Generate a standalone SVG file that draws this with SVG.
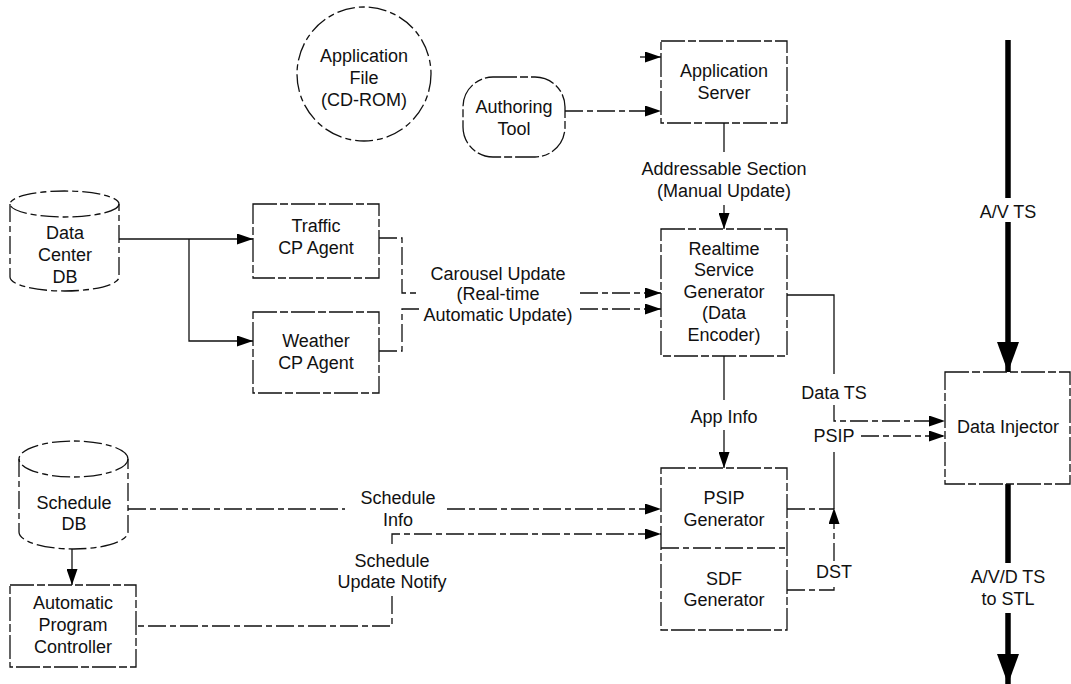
<svg xmlns="http://www.w3.org/2000/svg" width="1071" height="684" viewBox="0 0 1071 684">
<style>
text{font-family:"Liberation Sans",Arial,sans-serif;font-size:18px;fill:#111;text-anchor:middle}
.s{fill:none;stroke:#111;stroke-width:1.3}
.d{fill:none;stroke:#111;stroke-width:1.3;stroke-dasharray:18 4 6 4}
.n{fill:#fff;stroke:#111;stroke-width:1.3;stroke-dasharray:24 3 8 3}
.t{fill:none;stroke:#000;stroke-width:5.5}
</style>
<defs>
<marker id="a" markerUnits="userSpaceOnUse" markerWidth="16" markerHeight="11" refX="16" refY="5.5" orient="auto"><path d="M0,0 L16,5.5 L0,11 z" fill="#000"/></marker>
<marker id="b" markerUnits="userSpaceOnUse" markerWidth="30" markerHeight="22" refX="30" refY="11" orient="auto"><path d="M0,0 L30,11 L0,22 z" fill="#000"/></marker>
</defs>
<rect width="1071" height="684" fill="#fff"/>

<g id="connectors">
<path class="d" d="M565,111 L661,111" marker-end="url(#a)"/>
<path class="s" d="M640,57 L661,57" marker-end="url(#a)"/>
<path class="s" d="M724,123 L724,152"/>
<path class="s" d="M724,205 L724,229" marker-end="url(#a)"/>
<path class="s" d="M119,239 L253,239" marker-end="url(#a)"/>
<path class="s" d="M189,239 L189,341 L253,341" marker-end="url(#a)"/>
<path class="d" d="M379,238 L402,238 L402,293 L419,293"/>
<path class="d" d="M580,293 L661,293" marker-end="url(#a)"/>
<path class="d" d="M379,351 L402,351 L402,309 L419,309"/>
<path class="d" d="M580,309 L661,309" marker-end="url(#a)"/>
<path class="s" d="M787,295 L834,295 L834,374"/>
<path class="d" d="M834,405 L834,421 L945,421" marker-end="url(#a)"/>
<path class="d" d="M861,436 L945,436" marker-end="url(#a)"/>
<path class="s" d="M724,356 L724,400"/>
<path class="s" d="M724,430 L724,468" marker-end="url(#a)"/>
<path class="s" d="M834,452 L834,509"/>
<path class="d" d="M787,509 L834,509"/>
<path class="d" d="M834,561 L834,508" marker-end="url(#a)"/>
<path class="d" d="M787,590 L834,590 L834,585"/>
<path class="t" d="M1008,40 L1008,198"/>
<path class="t" d="M1008,222 L1008,372" marker-end="url(#b)"/>
<path class="t" d="M1008,484 L1008,563"/>
<path class="t" d="M1008,613 L1008,684" marker-end="url(#b)"/>
<path class="d" d="M128,509 L345,509"/>
<path class="d" d="M447,509 L661,509" marker-end="url(#a)"/>
<path class="d" d="M392,544 L392,534 L661,534" marker-end="url(#a)"/>
<path class="d" d="M392,596 L392,626 L136,626"/>
<path class="s" d="M72,549 L72,585" marker-end="url(#a)"/>
</g>

<g id="app-file">
<circle class="d" cx="364" cy="74" r="67"/>
<text x="364" y="62">Application</text>
<text x="364" y="84">File</text>
<text x="364" y="106">(CD-ROM)</text>
</g>
<g id="authoring-tool">
<rect class="n" x="463" y="77" width="102" height="80" rx="30"/>
<text x="514" y="113">Authoring</text>
<text x="514" y="135">Tool</text>
</g>
<g id="app-server">
<rect class="n" x="661" y="41" width="126" height="82"/>
<text x="724" y="77">Application</text>
<text x="724" y="99">Server</text>
</g>
<g id="label-addressable">
<text x="724" y="175">Addressable Section</text>
<text x="724" y="197">(Manual Update)</text>
</g>
<g id="realtime">
<rect class="n" x="661" y="229" width="126" height="127"/>
<text x="724" y="255">Realtime</text>
<text x="724" y="276">Service</text>
<text x="724" y="298">Generator</text>
<text x="724" y="319">(Data</text>
<text x="724" y="341">Encoder)</text>
</g>
<g id="data-center-db">
<path class="d" d="M10,204 L10,277 A54.5,14 0 0 0 119,277 L119,204"/>
<ellipse class="d" cx="64.5" cy="204" rx="54.5" ry="13"/>
<text x="65" y="239">Data</text>
<text x="65" y="261">Center</text>
<text x="65" y="283">DB</text>
</g>
<g id="traffic">
<rect class="n" x="253" y="204" width="126" height="74"/>
<text x="316" y="232">Traffic</text>
<text x="316" y="254">CP Agent</text>
</g>
<g id="weather">
<rect class="n" x="253" y="312" width="126" height="81"/>
<text x="316" y="347">Weather</text>
<text x="316" y="369">CP Agent</text>
</g>
<g id="label-carousel">
<text x="498" y="280">Carousel Update</text>
<text x="498" y="300">(Real-time</text>
<text x="498" y="321">Automatic Update)</text>
</g>
<g id="label-datats"><text x="834" y="399">Data TS</text></g>
<g id="label-psip"><text x="834" y="442">PSIP</text></g>
<g id="label-appinfo"><text x="724" y="423">App Info</text></g>
<g id="label-dst"><text x="834" y="578">DST</text></g>
<g id="data-injector">
<rect class="n" x="945" y="372" width="125" height="112"/>
<text x="1008" y="433">Data Injector</text>
</g>
<g id="label-avts"><text x="1008" y="218">A/V TS</text></g>
<g id="label-avdts">
<text x="1008" y="583">A/V/D TS</text>
<text x="1008" y="605">to STL</text>
</g>
<g id="psip-sdf">
<rect class="n" x="661" y="468" width="126" height="162"/>
<path class="d" d="M661,548 L787,548"/>
<text x="724" y="504">PSIP</text>
<text x="724" y="526">Generator</text>
<text x="724" y="585">SDF</text>
<text x="724" y="606">Generator</text>
</g>
<g id="schedule-db">
<path class="d" d="M19,459 L19,532 A54.5,17 0 0 0 128,532 L128,459"/>
<ellipse class="d" cx="73.5" cy="459" rx="54.5" ry="18"/>
<text x="74" y="509">Schedule</text>
<text x="74" y="530">DB</text>
</g>
<g id="label-schedinfo">
<text x="398" y="504">Schedule</text>
<text x="398" y="526">Info</text>
</g>
<g id="label-schedupd">
<text x="392" y="567">Schedule</text>
<text x="392" y="588">Update Notify</text>
</g>
<g id="apc">
<rect class="n" x="10" y="585" width="126" height="82"/>
<text x="73" y="609">Automatic</text>
<text x="73" y="631">Program</text>
<text x="73" y="653">Controller</text>
</g>
</svg>
